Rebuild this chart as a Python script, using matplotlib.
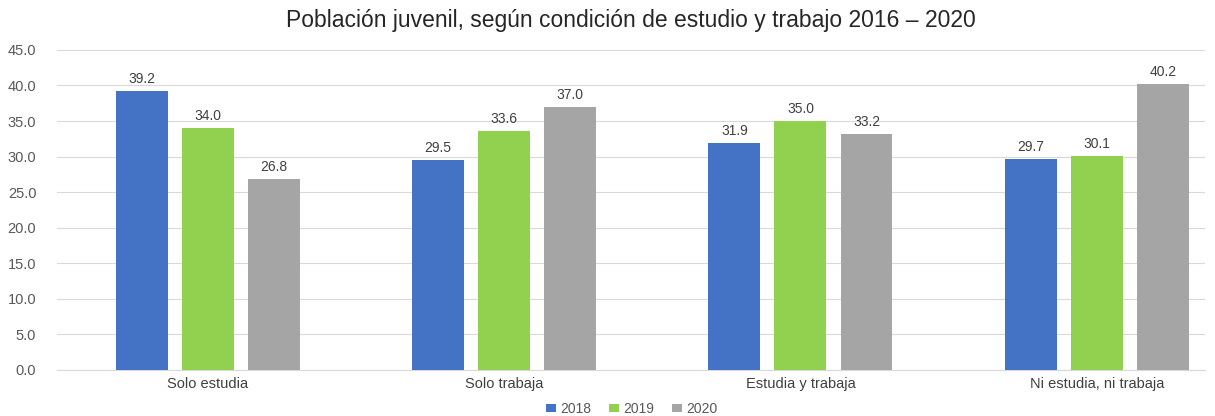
import matplotlib.pyplot as plt
import numpy as np

categories = ["Solo estudia", "Solo trabaja", "Estudia y trabaja", "Ni estudia, ni trabaja"]
years = ["2018", "2019", "2020"]
values_2018 = [39.2, 29.5, 31.9, 29.7]
values_2019 = [34.0, 33.6, 35.0, 30.1]
values_2020 = [26.8, 37.0, 33.2, 40.2]
colors = ["#4472C4", "#92D050", "#A5A5A5"]

plt.rcParams["font.family"] = ["Liberation Sans", "DejaVu Sans"]

fig = plt.figure(figsize=(12.15, 4.16), dpi=100)
ax = fig.add_axes([0.047, 0.111, 0.945, 0.769])

x = np.arange(len(categories))
width = 0.175
step = 0.223
for i, (vals, label, c) in enumerate(zip([values_2018, values_2019, values_2020], years, colors)):
    pos = x + (i - 1) * step
    ax.bar(pos, vals, width, color=c, label=label, zorder=3)
    for xb, v in zip(pos, vals):
        ax.text(xb, v + 0.7, f"{v:.1f}", ha="center", va="bottom", fontsize=10, color="#404040")

ax.set_xlim(-0.508, 3.366)
ax.set_ylim(0, 45)
ticks = np.arange(0, 45.1, 5)
ax.set_yticks(ticks)
ax.set_yticklabels([f"{t:.1f}" for t in ticks], fontsize=10.5, color="#595959")
ax.set_xticks(x)
ax.set_xticklabels(categories, fontsize=10.5, color="#404040")
ax.tick_params(length=0, pad=5)
ax.tick_params(axis="y", pad=15)
ax.grid(axis="y", color="#D9D9D9", linewidth=0.8, zorder=0)
for s in ["top", "right", "left"]:
    ax.spines[s].set_visible(False)
ax.spines["bottom"].set_color("#D9D9D9")

fig.text(0.519, 0.95, "Población juvenil, según condición de estudio y trabajo 2016 – 2020",
         ha="center", va="center", fontsize=16.5, color="#262626")
fig.legend(loc="lower center", bbox_to_anchor=(0.52, -0.03), ncol=3, frameon=False,
           fontsize=10, handlelength=0.7, handleheight=0.5, columnspacing=1.3, handletextpad=0.3,
           labelcolor="#595959")

fig.savefig("out.png", dpi=100)
